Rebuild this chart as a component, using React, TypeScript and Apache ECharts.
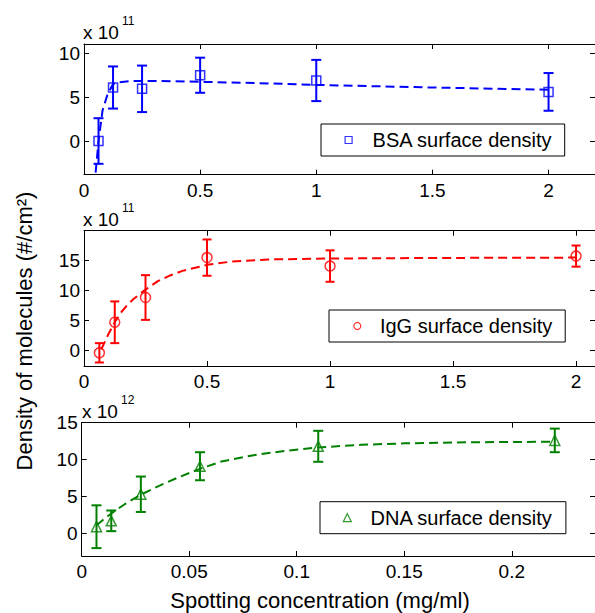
import React, { useEffect, useRef } from "react";
import * as echarts from "echarts";

const FONT = '"Liberation Sans", Arial, Helvetica, sans-serif';

// BSA panel (x 10^11 molecules/cm^2)
const bsaX = [0.0625, 0.125, 0.25, 0.5, 1, 2];
const bsaY = [0, 6.1, 5.95, 7.5, 6.9, 5.6];
const bsaErr = [2.6, 2.4, 2.65, 2.0, 2.35, 2.15];
const bsaFitX = [0.05, 0.0625, 0.08, 0.1, 0.125, 0.15, 0.2, 0.3, 0.5, 0.75, 1, 1.5, 2];
const bsaFitY = [-3.6, 0, 3.5, 5.2, 6.5, 6.7, 6.85, 6.85, 6.75, 6.6, 6.4, 6.1, 5.85];

// IgG panel (x 10^11)
const iggX = [0.0625, 0.125, 0.25, 0.5, 1, 2];
const iggY = [-0.35, 4.7, 8.8, 15.4, 14.0, 15.65];
const iggErr = [1.6, 3.45, 3.7, 3.0, 2.6, 1.75];
const iggFitX = [0.07, 0.1, 0.125, 0.15, 0.175, 0.2, 0.25, 0.3, 0.35, 0.4, 0.5, 0.6, 0.75, 1, 1.5, 2];
const iggFitY = [0.2, 2.8, 4.7, 6.3, 7.5, 8.5, 10.1, 11.5, 12.45, 13.2, 14.2, 14.75, 15.1, 15.25, 15.35, 15.4];

// DNA panel (x 10^12)
const dnaX = [0.006875, 0.01375, 0.0275, 0.055, 0.11, 0.22];
const dnaY = [0.9, 1.7, 5.3, 9.1, 11.8, 12.6];
const dnaErr = [2.9, 1.4, 2.4, 1.9, 2.1, 1.6];
const dnaFitX = [0.0069, 0.01, 0.01375, 0.02, 0.0275, 0.035, 0.045, 0.055, 0.065, 0.08, 0.095, 0.11, 0.13, 0.15, 0.18, 0.22];
const dnaFitY = [1.1, 1.85, 2.7, 3.95, 5.25, 6.3, 7.6, 8.75, 9.75, 10.6, 11.2, 11.65, 12.0, 12.2, 12.35, 12.42];

// Ticks
const xTicks12 = [0, 0.5, 1, 1.5, 2];
const xTicks3 = [0, 0.05, 0.1, 0.15, 0.2];
const yTicks1 = [0, 5, 10];
const yTicks2 = [0, 5, 10, 15];
const yTicks3 = [0, 5, 10, 15];

const legendNames = ["BSA surface density", "IgG surface density", "DNA surface density"];
const exponents = ["11", "11", "12"];
const xTitle = "Spotting concentration (mg/ml)";
const yTitle = "Density of molecules (#/cm²)";

const panels = [
  {
    x: bsaX, y: bsaY, err: bsaErr, fx: bsaFitX, fy: bsaFitY, color: "#0000ff", symbol: "rect", size: 9,
    grid: { left: 84, top: 44, width: 511.5, height: 130.7 },
    xmin: 0, xmax: 2.2, ymin: -3.84, ymax: 11.06, xt: xTicks12, yt: yTicks1, cap: 5,
    legend: { left: 321, top: 124, padding: [6, 12, 6, 23.5], textPad: 15.5, icon: 7 },
    expo: { x: 83, y: 32.5 },
  },
  {
    x: iggX, y: iggY, err: iggErr, fx: iggFitX, fy: iggFitY, color: "#ff0000", symbol: "circle", size: 10,
    grid: { left: 84, top: 230.7, width: 511, height: 135.3 },
    xmin: 0, xmax: 2.077, ymin: -2.53, ymax: 19.85, xt: xTicks12, yt: yTicks2, cap: 4.5,
    legend: { left: 329, top: 310, padding: [6, 13, 6, 24.2], textPad: 14.1, icon: 7 },
    expo: { x: 83, y: 219 },
  },
  {
    x: dnaX, y: dnaY, err: dnaErr, fx: dnaFitX, fy: dnaFitY, color: "#008000", symbol: "triangle", size: 10,
    grid: { left: 81.7, top: 422.7, width: 513.3, height: 133.3 },
    xmin: 0, xmax: 0.2387, ymin: -3.07, ymax: 15, xt: xTicks3, yt: yTicks3, cap: 5,
    legend: { left: 320, top: 501.7, padding: [6, 13, 6, 22.7], textPad: 14.3, icon: 8 },
    expo: { x: 82, y: 411 },
  },
];

function axisCommon(ticks: number[], showLabel: boolean, margin: number) {
  return {
    axisLine: { show: true, onZero: false, lineStyle: { color: "#000", width: 1 } },
    axisTick: { show: true, inside: true, length: 5, customValues: ticks, lineStyle: { color: "#000", width: 1 } },
    axisLabel: {
      show: showLabel,
      customValues: ticks,
      margin,
      fontSize: 19,
      color: "#000",
      fontFamily: FONT,
      formatter: (v: number) => String(v),
    },
    splitLine: { show: false },
  };
}

export default function App() {
  const ref = useRef<HTMLDivElement>(null);

  useEffect(() => {
    document.body.style.margin = "0";
    if (!ref.current) return;
    const chart = echarts.init(ref.current, null, { renderer: "svg" });

    const grid: any[] = [];
    const xAxis: any[] = [];
    const yAxis: any[] = [];
    const series: any[] = [];
    const legend: any[] = [];
    const graphic: any[] = [];

    panels.forEach((p, i) => {
      grid.push({ ...p.grid, containLabel: false });
      xAxis.push({ type: "value", gridIndex: i, position: "bottom", min: p.xmin, max: p.xmax, ...axisCommon(p.xt, true, 6) });
      xAxis.push({ type: "value", gridIndex: i, position: "top", min: p.xmin, max: p.xmax, ...axisCommon(p.xt, false, 6) });
      yAxis.push({ type: "value", gridIndex: i, position: "left", min: p.ymin, max: p.ymax, ...axisCommon(p.yt, true, 4) });
      yAxis.push({ type: "value", gridIndex: i, position: "right", min: p.ymin, max: p.ymax, ...axisCommon(p.yt, false, 4) });

      const xi = 2 * i;
      series.push({
        type: "line",
        xAxisIndex: xi,
        yAxisIndex: xi,
        data: p.fx.map((x, j) => [x, p.fy[j]]),
        showSymbol: false,
        symbol: "none",
        smooth: false,
        silent: true,
        lineStyle: { color: p.color, width: 2, type: [9, 5] },
        z: 2,
      });
      const color = p.color;
      const cap = p.cap;
      series.push({
        type: "custom",
        xAxisIndex: xi,
        yAxisIndex: xi,
        data: p.x.map((x, j) => [x, p.y[j], p.err[j]]),
        encode: { x: 0, y: 1 },
        silent: true,
        z: 3,
        renderItem: (params: any, api: any) => {
          const xv = api.value(0);
          const yv = api.value(1);
          const e = api.value(2);
          const a = api.coord([xv, yv + e]);
          const b = api.coord([xv, yv - e]);
          const st = { stroke: color, lineWidth: 2 };
          return {
            type: "group",
            children: [
              { type: "line", shape: { x1: a[0], y1: a[1], x2: b[0], y2: b[1] }, style: st },
              { type: "line", shape: { x1: a[0] - cap, y1: a[1], x2: a[0] + cap, y2: a[1] }, style: st },
              { type: "line", shape: { x1: b[0] - cap, y1: b[1], x2: b[0] + cap, y2: b[1] }, style: st },
            ],
          };
        },
      });
      series.push({
        type: "scatter",
        name: legendNames[i],
        xAxisIndex: xi,
        yAxisIndex: xi,
        data: p.x.map((x, j) => [x, p.y[j]]),
        symbol: p.symbol,
        symbolSize: p.size,
        itemStyle: { color: "rgba(255,255,255,0)", borderColor: p.color, borderWidth: 1.5 },
        z: 4,
      });

      legend.push({
        data: [legendNames[i]],
        left: p.legend.left,
        top: p.legend.top,
        padding: p.legend.padding,
        itemWidth: p.legend.icon,
        itemHeight: p.legend.icon,
        borderColor: "#000",
        borderWidth: 1,
        borderRadius: 0,
        backgroundColor: "#fff",
        selectedMode: false,
        textStyle: { fontSize: 20, color: "#000", fontFamily: FONT, padding: [0, 0, 0, p.legend.textPad] },
        itemStyle: { borderWidth: 1.2 },
      });

      graphic.push({
        type: "text",
        x: p.expo.x,
        y: p.expo.y,
        style: { text: "x 10", fill: "#000", font: `19px ${FONT}`, align: "left", verticalAlign: "middle" },
      });
      graphic.push({
        type: "text",
        x: p.expo.x + 39,
        y: p.expo.y - 11.5,
        style: { text: exponents[i], fill: "#000", font: `12px ${FONT}`, align: "left", verticalAlign: "middle" },
      });
    });

    graphic.push({
      type: "text",
      x: 320,
      y: 600,
      style: { text: xTitle, fill: "#000", font: `22px ${FONT}`, align: "center", verticalAlign: "middle" },
    });
    graphic.push({
      type: "text",
      x: 24,
      y: 331,
      rotation: Math.PI / 2,
      style: { text: yTitle, fill: "#000", font: `22px ${FONT}`, align: "center", verticalAlign: "middle" },
    });

    chart.setOption({
      animation: false,
      backgroundColor: "#fff",
      textStyle: { fontFamily: FONT },
      grid,
      xAxis,
      yAxis,
      legend,
      series,
      graphic,
    });

    return () => chart.dispose();
  }, []);

  return <div ref={ref} style={{ width: 595, height: 613 }} />;
}
